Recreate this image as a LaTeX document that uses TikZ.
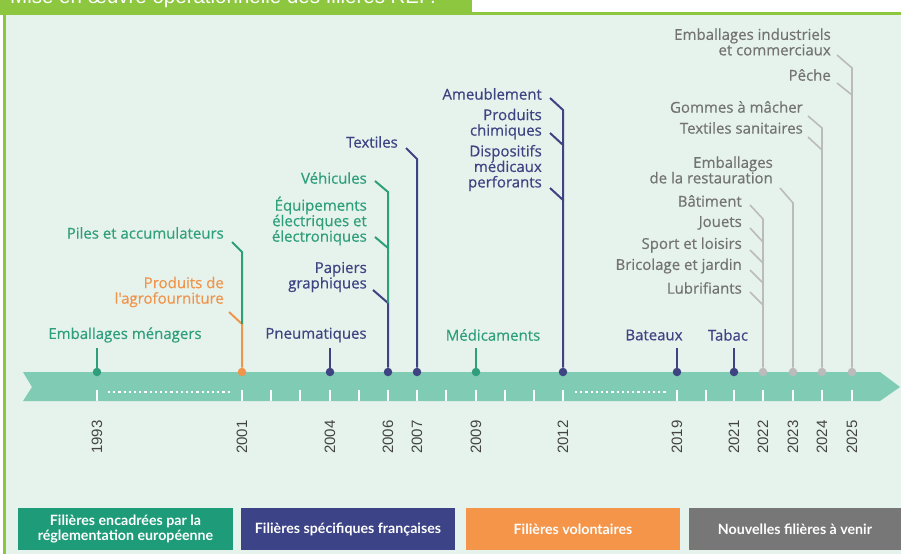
\documentclass[tikz,border=0pt]{standalone}
\usepackage{fontspec}
\setmainfont{Open Sans}
\newfontfamily\labfont[FakeBold=0.5]{Open Sans}
\newfontfamily\yearfont{Liberation Sans}
\newfontfamily\legfont{Lato}
\usepackage{xcolor}
\usepackage{tikz}
\usetikzlibrary{calc}

\definecolor{frameGreen}{HTML}{8DC63F}
\definecolor{paleBg}{HTML}{E6F3ED}
\definecolor{bandTeal}{HTML}{80CBB4}
\definecolor{repGreen}{HTML}{2E9E7B}
\definecolor{repNavy}{HTML}{3E4382}
\definecolor{repOrange}{HTML}{F0954C}
\definecolor{repGrey}{HTML}{737373}
\definecolor{stemGrey}{HTML}{BBBBBB}
\definecolor{yearGrey}{HTML}{444444}
\definecolor{boxGreen}{HTML}{1E9C79}
\definecolor{boxNavy}{HTML}{3C4386}
\definecolor{boxOrange}{HTML}{F4954A}
\definecolor{boxGrey}{HTML}{777777}

\begin{document}
\begin{tikzpicture}[x=1pt,y=-1pt,
    lab/.style={font=\labfont\fontsize{15}{15.5}\selectfont,inner sep=0pt,align=right,anchor=east},
    dotm/.style={circle,inner sep=0pt,minimum size=8.5pt},
    stem/.style={line width=2pt},
    greystem/.style={line width=1.6pt,stemGrey},
    yr/.style={font=\yearfont\fontsize{15}{16}\selectfont,rotate=90,text=yearGrey,inner sep=0pt},
    leg/.style={font=\legfont\bfseries\fontsize{14.2}{15.5}\selectfont,text=white,align=center,
      minimum height=42pt,inner sep=0pt}]
  \clip (0,0) rectangle (901,554);
  % frame and background
  \fill[paleBg] (6,14) rectangle (901,554);
  \fill[frameGreen] (0,0) rectangle (472,13);
  \fill[frameGreen] (0,12) rectangle (901,15);
  \fill[frameGreen] (3,12) rectangle (6,554);
  \node[anchor=base west,inner sep=0pt,text=white,font=\yearfont\fontsize{20.5}{22}\selectfont]
    (title) at (10,4) {Mise en œuvre opérationnelle des filières REP.};

  % the band
  \fill[bandTeal] (23,372) -- (880,372) -- (900,387) -- (880,401) -- (23,401) -- (32,387) -- cycle;
  \foreach \x in {97,242,271,300,330,359,388,417,446,476,505,534,563,677,706,734,763,793,822,852}
    \draw[white,line width=1.5pt] (\x,390) -- (\x,401);
  \draw[white,line width=2.2pt,dash pattern=on 2.2pt off 3pt] (108,392) -- (232,392);
  \draw[white,line width=2.2pt,dash pattern=on 2.2pt off 3pt] (575,392) -- (667,392);

  % years
  \foreach \yr/\x in {1993/97,2001/242,2004/330,2006/388,2007/417,2009/476,2012/563,
      2019/677,2021/734,2022/763,2023/793,2024/822,2025/852}
    \node[yr] (y\yr) at (\x,437) {\yr};

  % markers
  \node[dotm,fill=repGreen] (d1993) at (97,372) {};
  \node[dotm,fill=repOrange] (d2001) at (242,372) {};
  \node[dotm,fill=repNavy] (d2004) at (330,372) {};
  \node[dotm,fill=repNavy] (d2006) at (388,372) {};
  \node[dotm,fill=repNavy] (d2007) at (417,372) {};
  \node[dotm,fill=repGreen] (d2009) at (476,372) {};
  \node[dotm,fill=repNavy] (d2012) at (563,372) {};
  \node[dotm,fill=repNavy] (d2019) at (677,372) {};
  \node[dotm,fill=repNavy] (d2021) at (734,372) {};
  \node[dotm,fill=stemGrey] (d2022) at (763,372) {};
  \node[dotm,fill=stemGrey] (d2023) at (793,372) {};
  \node[dotm,fill=stemGrey] (d2024) at (822,372) {};
  \node[dotm,fill=stemGrey] (d2025) at (852,372) {};

  % labels sitting right above the band
  \node[lab,anchor=center,text=repGreen] (embMen) at (125,335) {Emballages ménagers};
  \node[lab,anchor=center,text=repNavy] (pneu) at (316,335) {Pneumatiques};
  \node[lab,anchor=center,text=repGreen] (medic) at (493,335) {Médicaments};
  \node[lab,anchor=center,text=repNavy] (bateaux) at (654,335) {Bateaux};
  \node[lab,anchor=center,text=repNavy] (tabac) at (728,335) {Tabac};
  \coordinate (s1993) at (97,348);
  \coordinate (s2004) at (330,348);
  \coordinate (s2009) at (476,348);
  \coordinate (s2019) at (677,348);
  \coordinate (s2021) at (734,348);
  \draw[stem,repGreen] (d1993) -- (s1993);
  \draw[stem,repNavy] (d2004) -- (s2004);
  \draw[stem,repGreen] (d2009) -- (s2009);
  \draw[stem,repNavy] (d2019) -- (s2019);
  \draw[stem,repNavy] (d2021) -- (s2021);

  % 2001
  \node[lab,text=repGreen] (piles) at (224,233) {Piles et accumulateurs};
  \node[lab,text=repOrange] (agro) at (224,292) {Produits de\\l'agrofourniture};
  \coordinate (tAgro) at (229,312);  \coordinate (kAgro) at (242,324);
  \coordinate (tPiles) at (232,242); \coordinate (kPiles) at (242,252);
  \draw[stem,repOrange] (d2001) -- (kAgro) -- (tAgro);
  \draw[stem,repGreen] (kAgro) -- (kPiles) -- (tPiles);

  % 2006
  \node[lab,text=repNavy] (papiers) at (367,277) {Papiers\\graphiques};
  \node[lab,text=repGreen] (equip) at (367,221) {Équipements\\électriques et\\électroniques};
  \node[lab,text=repGreen] (vehic) at (367,178) {Véhicules};
  \coordinate (tPapiers) at (373,290); \coordinate (kPapiers) at (388,303);
  \coordinate (tEquip) at (375,237);   \coordinate (kEquip) at (388,248);
  \coordinate (tVehic) at (375,181);   \coordinate (kVehic) at (388,192);
  \draw[stem,repNavy] (d2006) -- (kPapiers) -- (tPapiers);
  \draw[stem,repGreen] (kPapiers) -- (kEquip) -- (tEquip);
  \draw[stem,repGreen] (kEquip) -- (kVehic) -- (tVehic);

  % 2007
  \node[lab,text=repNavy] (textiles) at (398,142) {Textiles};
  \coordinate (tTextiles) at (406,148); \coordinate (kTextiles) at (417,159);
  \draw[stem,repNavy] (d2007) -- (kTextiles) -- (tTextiles);

  % 2012
  \node[lab,text=repNavy] (ameub) at (542,94) {Ameublement};
  \node[lab,text=repNavy] (chimie) at (542,124) {Produits\\chimiques};
  \node[lab,text=repNavy] (dispo) at (542,168) {Dispositifs\\médicaux\\perforants};
  \coordinate (tDispo) at (550,188);  \coordinate (kDispo) at (563,200);
  \coordinate (tChimie) at (550,133); \coordinate (kChimie) at (563,145);
  \coordinate (tAmeub) at (550,98);   \coordinate (kAmeub) at (563,110);
  \draw[stem,repNavy] (d2012) -- (kDispo) -- (tDispo);
  \draw[stem,repNavy] (kDispo) -- (kChimie) -- (tChimie);
  \draw[stem,repNavy] (kChimie) -- (kAmeub) -- (tAmeub);

  % 2022
  \node[lab,text=repGrey] (batim) at (742,201) {Bâtiment};
  \node[lab,text=repGrey] (jouets) at (742,223) {Jouets};
  \node[lab,text=repGrey] (sport) at (742,245) {Sport et loisirs};
  \node[lab,text=repGrey] (brico) at (742,266) {Bricolage et jardin};
  \node[lab,text=repGrey] (lubri) at (742,288) {Lubrifiants};
  \coordinate (tLubri) at (750,292); \coordinate (kLubri) at (763,305);
  \coordinate (tBrico) at (750,270); \coordinate (kBrico) at (763,283);
  \coordinate (tSport) at (750,250); \coordinate (kSport) at (763,263);
  \coordinate (tJouets) at (750,228); \coordinate (kJouets) at (763,242);
  \coordinate (tBatim) at (750,205); \coordinate (kBatim) at (763,219);
  \draw[greystem] (d2022) -- (kLubri) -- (tLubri);
  \draw[greystem] (kLubri) -- (kBrico) -- (tBrico);
  \draw[greystem] (kBrico) -- (kSport) -- (tSport);
  \draw[greystem] (kSport) -- (kJouets) -- (tJouets);
  \draw[greystem] (kJouets) -- (kBatim) -- (tBatim);

  % 2023
  \node[lab,text=repGrey] (restau) at (773,170) {Emballages\\de la restauration};
  \coordinate (tRestau) at (780,188); \coordinate (kRestau) at (793,203);
  \draw[greystem] (d2023) -- (kRestau) -- (tRestau);

  % 2024
  \node[lab,text=repGrey] (gommes) at (803,107) {Gommes à mâcher};
  \node[lab,text=repGrey] (txsan) at (803,128) {Textiles sanitaires};
  \coordinate (tTxsan) at (808,137); \coordinate (kTxsan) at (822,150);
  \coordinate (tGommes) at (808,116); \coordinate (kGommes) at (822,128);
  \draw[greystem] (d2024) -- (kTxsan) -- (tTxsan);
  \draw[greystem] (kTxsan) -- (kGommes) -- (tGommes);

  % 2025
  \node[lab,text=repGrey] (indus) at (831,42) {Emballages industriels\\et commerciaux};
  \node[lab,text=repGrey] (peche) at (831,75) {Pêche};
  \coordinate (tPeche) at (837,83); \coordinate (kPeche) at (852,95);
  \coordinate (tIndus) at (837,55); \coordinate (kIndus) at (852,68);
  \draw[greystem] (d2025) -- (kPeche) -- (tPeche);
  \draw[greystem] (kPeche) -- (kIndus) -- (tIndus);

  % legend
  \node[leg,fill=boxGreen,minimum width=215pt] (legEU) at (125.5,529)
    {Filières encadrées par la\\réglementation européenne};
  \node[leg,fill=boxNavy,minimum width=214pt] (legFR) at (348,529) {Filières spécifiques françaises};
  \node[leg,fill=boxOrange,minimum width=214pt] (legVol) at (573,529) {Filières volontaires};
  \node[leg,fill=boxGrey,minimum width=212pt] (legNew) at (795,529) {Nouvelles filières à venir};
\end{tikzpicture}
\end{document}
